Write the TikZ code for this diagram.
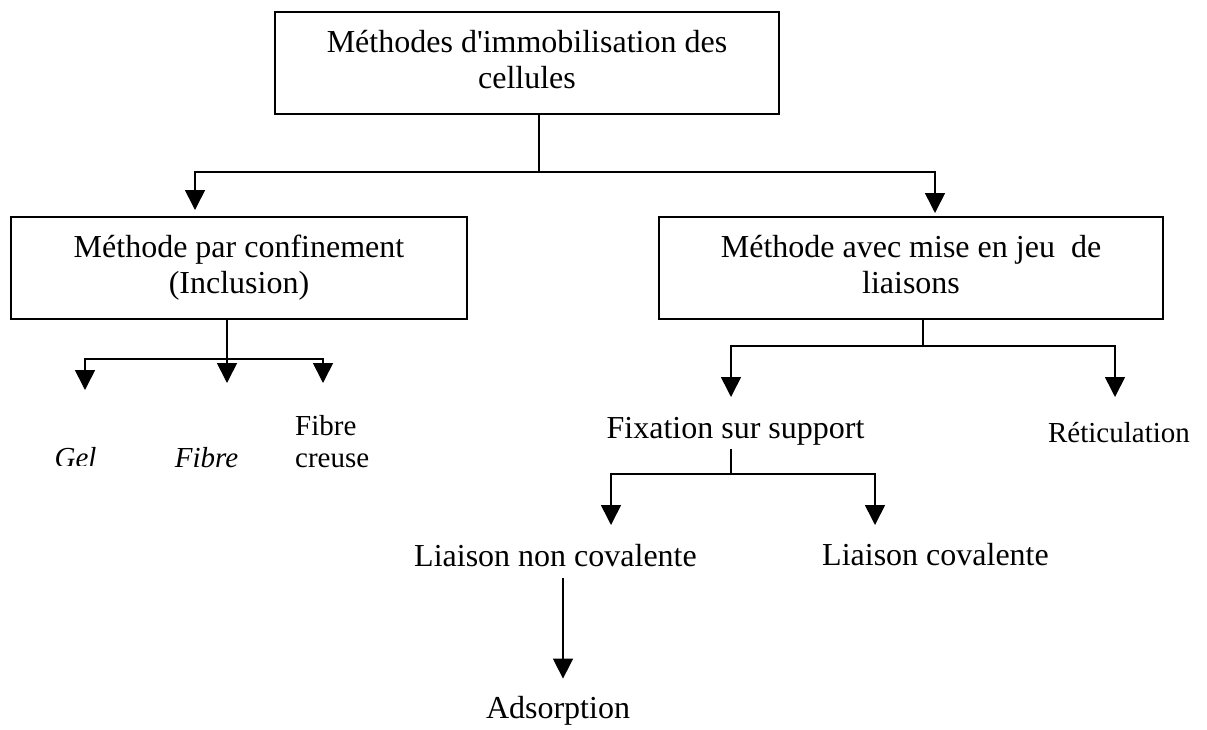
\documentclass[tikz,border=0pt]{standalone}
\usepackage{fontspec}
\setmainfont{Liberation Serif}
\usetikzlibrary{arrows.meta}
\begin{document}
\begin{tikzpicture}[x=1pt,y=-1pt,
  box/.style={draw, line width=2pt, inner sep=0pt, align=center,
    font=\fontsize{32}{36}\selectfont},
  big/.style={inner sep=0pt, anchor=base, font=\fontsize{32}{36}\selectfont},
  small/.style={inner sep=0pt, anchor=base, font=\fontsize{29}{32}\selectfont},
  smallit/.style={small, font=\fontsize{29}{32}\selectfont\itshape},
  conn/.style={line width=1.6pt},
  arr/.style={conn, -{Triangle[length=20pt,width=20pt]}}]
\useasboundingbox (0,0) rectangle (1207,729);

% boxes
\node[box, minimum width=504pt, minimum height=102pt] (top) at (527,63)
  {\strut M\'ethodes d\textquotesingle immobilisation des\\ cellules\strut};
\node[box, minimum width=456pt, minimum height=102pt] (left) at (239,268)
  {\strut M\'ethode par confinement\\ (Inclusion)\strut};
\node[box, minimum width=504pt, minimum height=102pt] (right) at (911,268)
  {\strut M\'ethode avec mise en jeu\ \ de\\ liaisons\strut};

% plain labels
\begin{scope}
  \clip (0,0) rectangle (1207,465);
  \node[smallit] (gel) at (75.5,467) {Gel};
\end{scope}
\node[smallit] (fibre) at (206.5,467) {Fibre};
\node[small, anchor=north west, align=left] (creuse) at (295,412.6)
  {\strut Fibre\\ creuse\strut};
\node[big] (fix) at (735.5,438) {Fixation sur support};
\node[small] (ret) at (1119,442) {R\'eticulation};
\node[big] (lnc) at (555.5,566) {Liaison non covalente};
\node[big] (lc) at (935.5,565) {Liaison covalente};
\node[big] (ads) at (558,718) {Adsorption};

% first level
\coordinate (j1) at (539,172);
\draw[conn] ([xshift=12pt]top.south) -- (j1);
\draw[arr] (j1) -| ([xshift=-44pt,yshift=6pt]left.north);
\draw[arr] (j1) -| ([xshift=24pt,yshift=3pt]right.north);

% confinement branches
\coordinate (j2) at (227,359);
\coordinate (tgel) at (85,390);
\coordinate (tfib) at (227,383);
\coordinate (tcre) at (323,383);
\draw[conn] ([xshift=-12pt]left.south) -- (j2);
\draw[arr] (j2) -| (tgel);
\draw[arr] (j2) -- (tfib);
\draw[arr] (j2) -| (tcre);

% liaison branches
\coordinate (j3) at (923,346);
\coordinate (tfix) at (731,397);
\coordinate (tret) at (1115,397);
\draw[conn] ([xshift=12pt]right.south) -- (j3);
\draw[arr] (j3) -| (tfix);
\draw[arr] (j3) -| (tret);

% support branches
\coordinate (j4) at (731,474);
\coordinate (tlnc) at (611,525);
\coordinate (tlc) at (875,525);
\draw[conn] ([xshift=-4.5pt,yshift=-4pt]fix.south) -- (j4);
\draw[arr] (j4) -| (tlnc);
\draw[arr] (j4) -| (tlc);

\draw[arr] ([xshift=7.5pt,yshift=-11pt]lnc.south) -- ([xshift=5pt,yshift=17pt]ads.north);
\end{tikzpicture}
\end{document}
